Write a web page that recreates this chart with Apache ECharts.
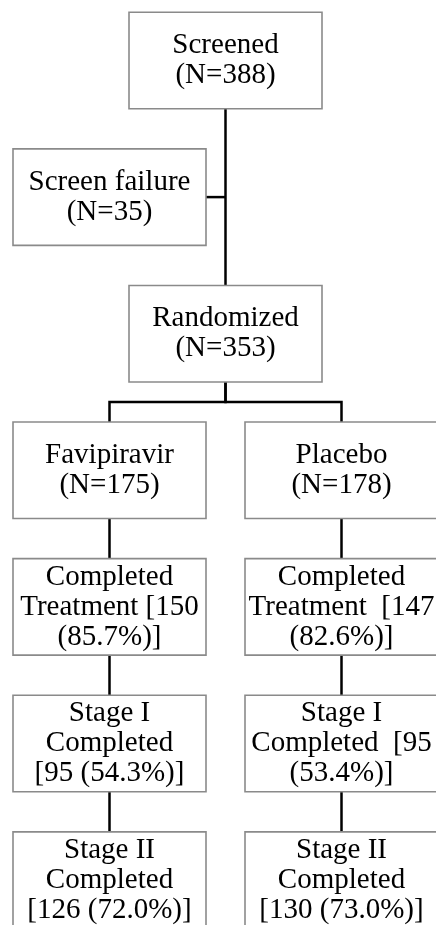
<!DOCTYPE html>
<html>
<head>
<meta charset="utf-8">
<script src="https://cdn.jsdelivr.net/npm/echarts@6/dist/echarts.min.js"></script>
<style>
html,body{margin:0;padding:0;background:#fff;}
#chart{width:436px;height:925px;}
</style>
</head>
<body>
<div id="chart"></div>
<script>
// ---- Data ----
const nodeLabels = [
  'Screened\n(N=388)',
  'Screen failure\n(N=35)',
  'Randomized\n(N=353)',
  'Favipiravir\n(N=175)',
  'Placebo\n(N=178)',
  'Completed\nTreatment [150\n(85.7%)]',
  'Completed\nTreatment  [147\n(82.6%)]',
  'Stage I\nCompleted\n[95 (54.3%)]',
  'Stage I\nCompleted  [95\n(53.4%)]',
  'Stage II\nCompleted\n[126 (72.0%)]',
  'Stage II\nCompleted\n[130 (73.0%)]'
];
// logical column (-1 = Favipiravir arm, 0 = main, 1 = Placebo arm) and step of each box
const nodeCol = [0, -1, 0, -1, 1, -1, 1, -1, 1, -1, 1];
const nodeStep = [0, 1, 2, 3, 3, 4, 4, 5, 5, 6, 6];
// flow links
const edgeFrom = [0, 0, 2, 2, 3, 4, 5, 6, 7, 8];
const edgeTo   = [2, 1, 3, 4, 5, 6, 7, 8, 9, 10];
const edgeKind = ['straight', 'side', 'split', 'split', 'straight', 'straight', 'straight', 'straight', 'straight', 'straight'];

// ---- Styles ----
const BOX_W = 193, BOX_H = 96.5;
const FONT = '"Liberation Serif", "Times New Roman", serif';

const chart = echarts.init(document.getElementById('chart'), null, {renderer: 'canvas'});

const boxData = nodeLabels.map((t, i) => ({value: [nodeCol[i], nodeStep[i]], label: t}));
const linkData = edgeFrom.map((f, i) => ({
  value: [nodeCol[f], nodeStep[f], nodeCol[edgeTo[i]], nodeStep[edgeTo[i]]],
  kind: edgeKind[i]
}));

chart.setOption({
  animation: false,
  backgroundColor: '#ffffff',
  grid: {left: 109.5, right: 94.5, top: 60.5, bottom: 44.9},
  xAxis: {type: 'value', min: -1, max: 1, show: false},
  yAxis: {type: 'value', min: 0, max: 6, inverse: true, show: false},
  series: [
    {
      type: 'custom',
      clip: false,
      z: 1,
      encode: {x: [0, 2], y: [1, 3]},
      data: linkData,
      renderItem: function (params, api) {
        const d = linkData[params.dataIndex];
        const a = api.coord([api.value(0), api.value(1)]);
        const b = api.coord([api.value(2), api.value(3)]);
        let pts;
        if (d.kind === 'straight') {
          pts = [[a[0], a[1] + BOX_H / 2], [b[0], b[1] - BOX_H / 2]];
        } else if (d.kind === 'side') {
          pts = [[a[0], b[1]], [b[0] + BOX_W / 2, b[1]]];
        } else {
          const y0 = a[1] + BOX_H / 2, y1 = b[1] - BOX_H / 2, ym = (y0 + y1) / 2;
          pts = [[a[0], y0], [a[0], ym], [b[0], ym], [b[0], y1]];
        }
        return {
          type: 'polyline',
          shape: {points: pts},
          style: {stroke: '#000', lineWidth: 2.5, fill: null, lineJoin: 'miter'}
        };
      }
    },
    {
      type: 'custom',
      clip: false,
      z: 2,
      encode: {x: 0, y: 1},
      data: boxData,
      renderItem: function (params, api) {
        const c = api.coord([api.value(0), api.value(1)]);
        return {
          type: 'group',
          children: [
            {
              type: 'rect',
              shape: {x: c[0] - BOX_W / 2, y: c[1] - BOX_H / 2, width: BOX_W, height: BOX_H},
              style: {fill: '#fff', stroke: '#8a8a8a', lineWidth: 1.6}
            },
            {
              type: 'text',
              x: c[0], y: c[1],
              style: {
                text: boxData[params.dataIndex].label,
                fontFamily: FONT,
                fontSize: 29,
                lineHeight: 30,
                fill: '#000',
                align: 'center',
                verticalAlign: 'middle'
              }
            }
          ]
        };
      }
    }
  ]
});
</script>
</body>
</html>
